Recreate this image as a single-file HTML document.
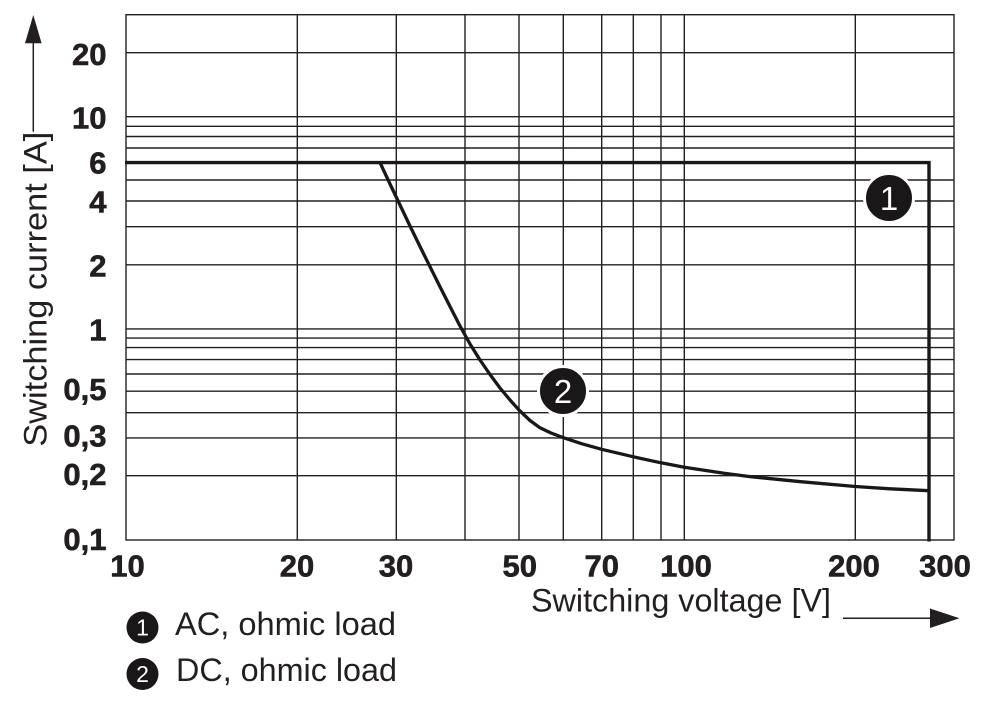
<!DOCTYPE html>
<html>
<head>
<meta charset="utf-8">
<style>
  html,body{margin:0;padding:0;background:#fff;}
  svg{display:block;}
  .g{stroke:#231f20;stroke-width:1.4;fill:none;}
  .t{font-family:"Liberation Sans",Arial,sans-serif;fill:#231f20;}
  .b{font-weight:bold;font-size:31px;stroke:#231f20;stroke-width:0.6;}
</style>
</head>
<body>
<svg width="1000" height="703" viewBox="0 0 1000 703" xmlns="http://www.w3.org/2000/svg">
  <rect width="1000" height="703" fill="#fff"/>
  <!-- horizontal grid -->
  <g class="g">
    <line x1="126" y1="52.7" x2="954" y2="52.7"/>
    <line x1="126" y1="116.7" x2="954" y2="116.7"/>
    <line x1="126" y1="126.3" x2="954" y2="126.3"/>
    <line x1="126" y1="136.5" x2="954" y2="136.5"/>
    <line x1="126" y1="148" x2="954" y2="148"/>
    <line x1="126" y1="180" x2="954" y2="180"/>
    <line x1="126" y1="201" x2="954" y2="201"/>
    <line x1="126" y1="226.7" x2="954" y2="226.7"/>
    <line x1="126" y1="264.8" x2="954" y2="264.8"/>
    <line x1="126" y1="328.9" x2="954" y2="328.9"/>
    <line x1="126" y1="338.1" x2="954" y2="338.1"/>
    <line x1="126" y1="347.6" x2="954" y2="347.6"/>
    <line x1="126" y1="359.6" x2="954" y2="359.6"/>
    <line x1="126" y1="374" x2="954" y2="374"/>
    <line x1="126" y1="391.2" x2="954" y2="391.2"/>
    <line x1="126" y1="412.7" x2="954" y2="412.7"/>
    <line x1="126" y1="437.9" x2="954" y2="437.9"/>
    <line x1="126" y1="475.7" x2="954" y2="475.7"/>
  </g>
  <!-- vertical grid -->
  <g class="g">
    <line x1="297.3" y1="14.7" x2="297.3" y2="540"/>
    <line x1="396.3" y1="14.7" x2="396.3" y2="540"/>
    <line x1="465" y1="14.7" x2="465" y2="540"/>
    <line x1="519" y1="14.7" x2="519" y2="540"/>
    <line x1="563.3" y1="14.7" x2="563.3" y2="540"/>
    <line x1="601.7" y1="14.7" x2="601.7" y2="540"/>
    <line x1="633.3" y1="14.7" x2="633.3" y2="540"/>
    <line x1="661" y1="14.7" x2="661" y2="540"/>
    <line x1="684.3" y1="14.7" x2="684.3" y2="540"/>
    <line x1="855.3" y1="14.7" x2="855.3" y2="540"/>
  </g>
  <!-- frame -->
  <rect x="126" y="14.7" width="828" height="525.3" class="g"/>

  <!-- AC curve -->
  <polyline points="125,162.6 929,162.6 929,541.5" fill="none" stroke="#1a1718" stroke-width="3.4" stroke-linejoin="miter"/>
  <!-- DC curve -->
  <polyline fill="none" stroke="#1a1718" stroke-width="3.3" stroke-linejoin="round" stroke-linecap="butt"
    points="380,162.6 390,184 400,205 410,226 420,246.5 430,266.7 440,286.7 450,306.5 460,326 470,344 480,360 490,374.5 500,388 510,400 519,410 530,420.5 540,427.8 551,433 563.3,437.7 582,443.8 601.7,449.3 633,456.7 661,462.8 684.3,467.3 724,473.3 751,476.7 800.6,481.7 855.3,486.5 890,488.8 928.8,490.7"/>

  <!-- badges in chart -->
  <circle cx="889" cy="198" r="24.5" fill="#1a1718" stroke="#fff" stroke-width="3"/>
  <text x="889" y="210" text-anchor="middle" class="t" style="font-size:33px;fill:#fff">1</text>
  <circle cx="563" cy="391" r="24.5" fill="#1a1718" stroke="#fff" stroke-width="3"/>
  <text x="563" y="403" text-anchor="middle" class="t" style="font-size:33px;fill:#fff">2</text>

  <!-- y tick labels -->
  <g class="t b" text-anchor="end">
    <text x="106.5" y="65">20</text>
    <text x="106.5" y="128.3">10</text>
    <text x="106.5" y="173.3">6</text>
    <text x="106.5" y="212.3">4</text>
    <text x="106.5" y="276.7">2</text>
    <text x="106.5" y="340.7">1</text>
    <text x="106.5" y="400">0,5</text>
    <text x="106.5" y="446.7">0,3</text>
    <text x="106.5" y="485">0,2</text>
    <text x="106.5" y="550">0,1</text>
  </g>
  <!-- x tick labels -->
  <g class="t b" text-anchor="middle">
    <text x="127.5" y="576.5">10</text>
    <text x="297" y="576.5">20</text>
    <text x="396" y="576.5">30</text>
    <text x="519.7" y="576.5">50</text>
    <text x="601.8" y="576.5">70</text>
    <text x="686" y="576.5">100</text>
    <text x="854" y="576.5">200</text>
    <text x="945" y="576.5">300</text>
  </g>

  <!-- y axis title + arrow -->
  <text class="t" style="font-size:32.5px" transform="translate(46.7,446.7) rotate(-90)" textLength="315" lengthAdjust="spacingAndGlyphs">Switching current [A]</text>
  <line x1="33.3" y1="131.7" x2="33.3" y2="40" stroke="#231f20" stroke-width="1.5"/>
  <polygon points="33.3,15 25,43.3 41.6,43.3" fill="#231f20"/>

  <!-- x axis title + arrow -->
  <text class="t" style="font-size:32.5px" x="531" y="611.7" textLength="300" lengthAdjust="spacingAndGlyphs">Switching voltage [V]</text>
  <line x1="843" y1="618.3" x2="934" y2="618.3" stroke="#231f20" stroke-width="1.5"/>
  <polygon points="930,608.5 959.5,618.3 930,628" fill="#231f20"/>

  <!-- legend -->
  <circle cx="142.5" cy="627.5" r="16" fill="#1a1718"/>
  <text x="142.5" y="635.5" text-anchor="middle" class="t" style="font-size:23px;fill:#fff">1</text>
  <text x="175" y="635" class="t" style="font-size:32.5px" textLength="221" lengthAdjust="spacingAndGlyphs">AC, ohmic load</text>
  <circle cx="142.5" cy="674" r="16" fill="#1a1718"/>
  <text x="142.5" y="682" text-anchor="middle" class="t" style="font-size:23px;fill:#fff">2</text>
  <text x="176" y="681" class="t" style="font-size:32.5px" textLength="221" lengthAdjust="spacingAndGlyphs">DC, ohmic load</text>
</svg>
</body>
</html>
